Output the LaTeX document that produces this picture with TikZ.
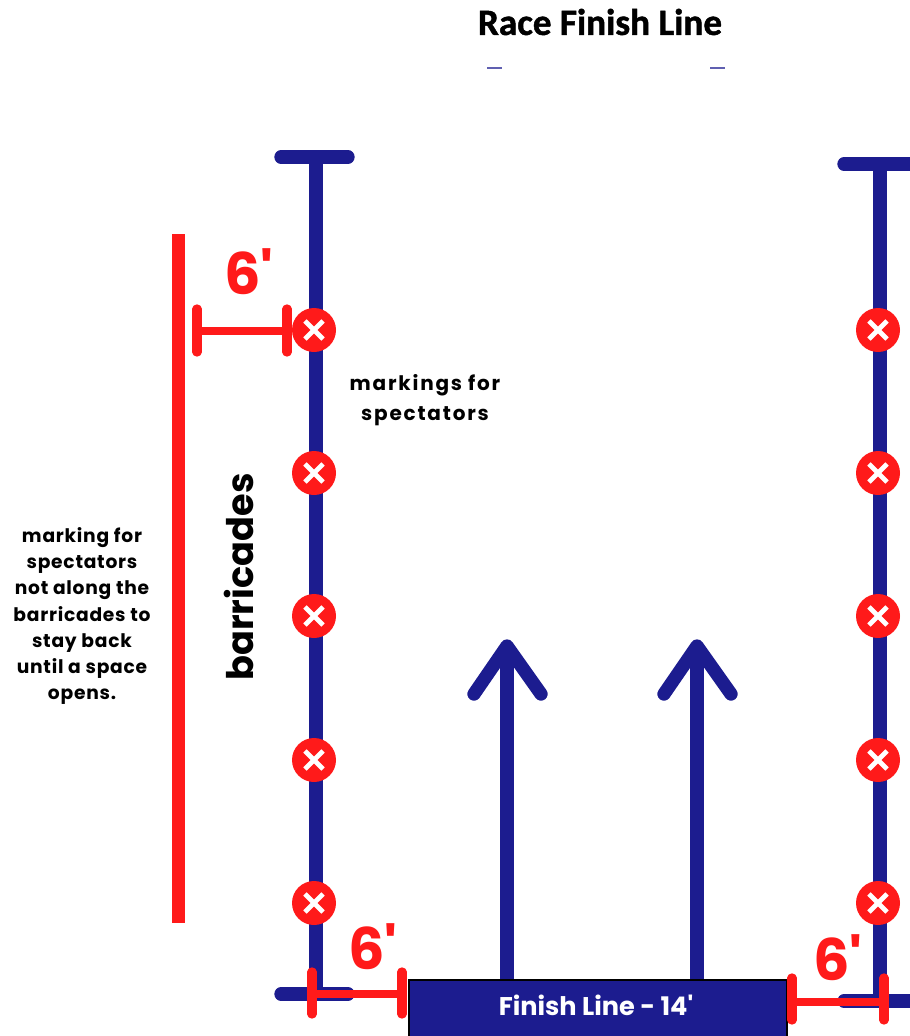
\documentclass[tikz,border=0pt]{standalone}
\usepackage{fontspec}
\setmainfont{Poppins}
\newfontfamily\titlefont[FakeBold=1.2]{Carlito Bold}
\newfontfamily\notefont[LetterSpace=4]{Poppins}
\newfontfamily\widenotefont[LetterSpace=9]{Poppins}
\usetikzlibrary{calc}
\usetikzlibrary{positioning}
\definecolor{barblue}{HTML}{1C1C8F}
\definecolor{markred}{HTML}{FF1A1A}
\tikzset{
    barline/.style={
           draw=barblue,
           line width=10pt,
           },
    capline/.style={
           draw=barblue,
           line width=10pt,
           line cap=round,
           },
    dimline/.style={
           draw=markred,
           line width=6.6pt,
           },
    dimtick/.style={
           draw=markred,
           line width=7pt,
           line cap=round,
           },
    marker/.style={
           circle,
           fill=markred,
           minimum size=33pt,
           inner sep=0pt,
           path picture={
               \draw[white, line width=3.5pt, line cap=butt]
               ($(path picture bounding box.center)+(-6.8pt,-6.8pt)$) -- ($(path picture bounding box.center)+(6.8pt,6.8pt)$)
               ($(path picture bounding box.center)+(-6.8pt,6.8pt)$) -- ($(path picture bounding box.center)+(6.8pt,-6.8pt)$);
           },
           },
    note/.style={
           text=black,
           font=\notefont\fontsize{14pt}{19.6pt}\selectfont\bfseries,
           align=center,
           inner sep=0pt,
           },
    sixlabel/.style={
           text=markred,
           font=\fontsize{43pt}{43pt}\selectfont\bfseries,
           inner sep=0pt,
           },
}
\begin{document}
\begin{tikzpicture}[x=0.75pt,y=-0.75pt]
      \useasboundingbox (0,0) rectangle (910,1036);
      % title and the two small dashes under it
      \node[font=\titlefont\fontsize{27.9pt}{30pt}\selectfont, inner sep=0pt] (title) at (600,22) {Race Finish Line};
      \coordinate (dash_a0) at (487,68);
      \coordinate (dash_a1) at (502,68);
      \coordinate (dash_b0) at (710,68);
      \coordinate (dash_b1) at (725,68);
      \draw[barblue!70, line width=0.8pt] (dash_a0) -- (dash_a1);
      \draw[barblue!70, line width=0.8pt] (dash_b0) -- (dash_b1);
      % barricades
      \coordinate (left_top) at (316,157);
      \coordinate (left_bot) at (316,994);
      \coordinate (right_top) at (880,164);
      \coordinate (right_bot) at (880,1001);
      \coordinate (left_top_a) at (281,157);
      \coordinate (left_top_b) at (348,157);
      \coordinate (left_bot_a) at (281,994);
      \coordinate (left_bot_b) at (348,994);
      \coordinate (right_top_a) at (844,164);
      \coordinate (right_top_b) at (915,164);
      \coordinate (right_bot_a) at (844,1001);
      \coordinate (right_bot_b) at (915,1001);
      \draw[barline] (left_top) -- (left_bot);
      \draw[barline] (right_top) -- (right_bot);
      \draw[capline] (left_top_a) -- (left_top_b);
      \draw[capline] (left_bot_a) -- (left_bot_b);
      \draw[capline] (right_top_a) -- (right_top_b);
      \draw[capline] (right_bot_a) -- (right_bot_b);
      % spectator markers
      \foreach \name/\ypos in {a/330,b/473,c/616,d/760,e/903}{
          \node[marker] (left_\name) at (314,\ypos) {};
          \node[marker] (right_\name) at (878,\ypos) {};
      }
      % finish box and the arrows
      \node[draw=black, fill=barblue, line width=2.2pt, outer sep=0pt, minimum width=283.5pt, minimum height=48pt, anchor=north west, inner sep=0pt] (finish) at (409,980) {};
      \node[text=white, font=\fontsize{19.2pt}{20pt}\selectfont\bfseries, inner sep=0pt] (finish_text) at (596,1005) {Finish Line - 14\textquotesingle};
      \coordinate (arrow_a) at (507,646);
      \coordinate (arrow_b) at (697,646);
      \coordinate (arrow_a_foot) at (507,979);
      \coordinate (arrow_b_foot) at (697,979);
      \coordinate (arrow_a_l) at (474,694);
      \coordinate (arrow_a_r) at (541,694);
      \coordinate (arrow_b_l) at (664,694);
      \coordinate (arrow_b_r) at (731,694);
      \draw[barline] (arrow_a_foot) -- (arrow_a);
      \draw[barline] (arrow_b_foot) -- (arrow_b);
      \draw[capline, line join=round] (arrow_a_l) -- (arrow_a) -- (arrow_a_r);
      \draw[capline, line join=round] (arrow_b_l) -- (arrow_b) -- (arrow_b_r);
      % red line and the dimensions
      \coordinate (stay_top) at (178.5,234);
      \coordinate (stay_bot) at (178.5,923);
      \draw[draw=markred, line width=10pt] (stay_top) -- (stay_bot);
      \foreach \name/\xa/\xb/\ya/\yb/\ymid in {top/197/287/309/352/331, botl/312/402/972/1014/994, botr/792/884/978/1020/1002}{
          \coordinate (\name_a0) at (\xa,\ya);
          \coordinate (\name_a1) at (\xa,\yb);
          \coordinate (\name_b0) at (\xb,\ya);
          \coordinate (\name_b1) at (\xb,\yb);
          \coordinate (\name_m0) at (\xa,\ymid);
          \coordinate (\name_m1) at (\xb,\ymid);
          \draw[dimline] (\name_m0) -- (\name_m1);
          \draw[dimtick] (\name_a0) -- (\name_a1);
          \draw[dimtick] (\name_b0) -- (\name_b1);
      }
      \node[sixlabel] (six_top) at (249,272) {6\textquotesingle};
      \node[sixlabel] (six_botl) at (373,947) {6\textquotesingle};
      \node[sixlabel] (six_botr) at (838,958) {6\textquotesingle};
      % notes
      \node[note, font=\widenotefont\fontsize{15pt}{22.5pt}\selectfont\bfseries] (note_markings) at (425,400) {markings for\\spectators};
      \node[note] (note_stay) at (82,616) {marking for\\spectators\\not along the\\barricades to\\stay back\\until a space\\opens.};
      \node[note, font=\fontsize{27.5pt}{30pt}\selectfont\bfseries, rotate=90] (note_barricades) at (239,577) {barricades};
\end{tikzpicture}
\end{document}
